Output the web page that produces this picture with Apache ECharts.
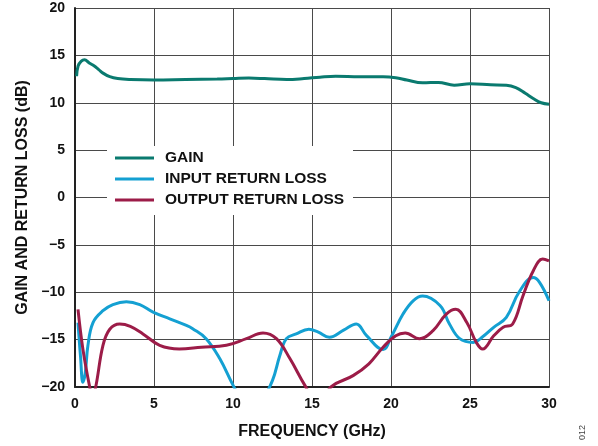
<!DOCTYPE html>
<html>
<head>
<meta charset="utf-8">
<script src="https://cdn.jsdelivr.net/npm/echarts@6/dist/echarts.min.js"></script>
<style>
  html, body { margin: 0; padding: 0; background: #fff; }
  #chart { width: 598px; height: 446px; }
</style>
</head>
<body>
<div id="chart"></div>
<script>
// 数据
var gainFreq = [0.1, 0.2, 0.4, 0.6, 0.9, 1.2, 1.5, 1.8, 2.2, 2.7, 3.5, 5, 7, 9, 10, 11, 12, 13.4, 14.5, 15.5, 16.5, 18, 19.5, 20.3, 21, 22, 23, 24, 25, 26.3, 27.3, 27.9, 28.5, 29, 29.5, 30];
var gainDb   = [12.8, 13.9, 14.4, 14.55, 14.2, 13.9, 13.5, 13.1, 12.75, 12.55, 12.45, 12.4, 12.45, 12.5, 12.55, 12.6, 12.55, 12.45, 12.55, 12.7, 12.8, 12.75, 12.75, 12.65, 12.4, 12.1, 12.15, 11.85, 12.0, 11.9, 11.85, 11.6, 11.0, 10.45, 10.0, 9.85];

var inFreq = [0.19, 0.35, 0.5, 0.65, 0.82, 1.14, 1.77, 2.4, 3.25, 4.1, 4.94, 6.0, 7.05, 7.45, 8.3, 9.16, 10.0, 10.6, 11.2, 11.8, 12.5, 12.96, 13.38, 14.0, 14.8, 15.4, 16.1, 17.0, 17.8, 18.44, 19.5, 20.0, 20.76, 21.4, 22.0, 23.1, 23.7, 24.35, 25.2, 25.8, 26.5, 27.3, 28.1, 28.99, 29.4, 30];
var inDb   = [-13.2, -16.8, -19.5, -18.5, -15.6, -13.2, -11.95, -11.3, -11.0, -11.3, -12.1, -12.8, -13.5, -13.85, -14.9, -17.0, -19.8, -21.5, -22.3, -21.5, -19.3, -16.7, -14.9, -14.4, -13.9, -14.2, -14.75, -14.0, -13.35, -14.55, -16.05, -14.75, -12.3, -10.9, -10.4, -11.4, -13.35, -14.9, -15.3, -14.7, -13.7, -12.65, -10.0, -8.45, -8.95, -10.9];

var outFreq = [0.19, 0.5, 0.93, 1.1, 1.31, 1.77, 2.2, 2.83, 3.5, 4.3, 5.36, 6.6, 8.0, 9.58, 10.85, 11.9, 12.75, 13.6, 14.54, 15.4, 16.2, 17.6, 18.6, 19.5, 20.3, 20.9, 21.8, 22.66, 23.5, 24.1, 24.8, 25.4, 25.8, 26.5, 27.1, 27.7, 28.35, 29.0, 29.6, 30];
var outDb   = [-11.8, -16.0, -20.0, -21.0, -20.0, -15.6, -13.9, -13.35, -13.6, -14.4, -15.6, -15.98, -15.8, -15.6, -14.9, -14.3, -14.9, -17.0, -19.8, -22.0, -20.0, -18.8, -17.55, -15.8, -14.6, -14.3, -14.9, -14.05, -12.3, -11.8, -13.2, -15.3, -16.0, -14.6, -13.7, -13.35, -10.4, -7.75, -6.5, -6.7];

var yTicks = [-20, -15, -10, -5, 0, 5, 10, 15, 20];

function pairs(xs, ys) {
    return xs.map(function(x, i) { return [x, ys[i]]; });
}

var font = '"Liberation Sans", Arial, sans-serif';
var myChart = echarts.init(document.getElementById('chart'), null, {renderer: 'canvas'});

var option = {
    backgroundColor: '#fff',
    animation: false,
    grid: { left: 75, right: 49, top: 8, bottom: 59, containLabel: false },
    xAxis: {
        type: 'value',
        min: 0, max: 30, interval: 5,
        name: 'FREQUENCY (GHz)',
        nameLocation: 'middle',
        nameGap: 37,
        nameTextStyle: { fontFamily: font, fontWeight: 'bold', fontSize: 16, color: '#111' },
        axisLine: { show: true, onZero: false, lineStyle: { color: '#222', width: 2 } },
        axisTick: { show: false },
        axisLabel: { margin: 10, fontFamily: font, fontWeight: 'bold', fontSize: 14, color: '#111' },
        splitLine: { show: true, lineStyle: { color: '#4a4a4a', width: 1 } }
    },
    yAxis: {
        type: 'value',
        min: -20, max: 20, interval: 5,
        name: 'GAIN AND RETURN LOSS (dB)',
        nameLocation: 'middle',
        nameGap: 43,
        nameTextStyle: { fontFamily: font, fontWeight: 'bold', fontSize: 16, color: '#111' },
        axisLine: { show: true, onZero: false, lineStyle: { color: '#222', width: 2 } },
        axisTick: { show: false },
        axisLabel: {
            margin: 10, fontFamily: font, fontWeight: 'bold', fontSize: 14, color: '#111',
            formatter: function(v) { return yTicks.indexOf(v) > -1 && v < 0 ? '\u2212' + Math.abs(v) : String(v); }
        },
        splitLine: { show: true, lineStyle: { color: '#4a4a4a', width: 1 } }
    },
    legend: {
        orient: 'vertical',
        left: 110, top: 145,
        itemWidth: 39, itemHeight: 3,
        itemGap: 5,
        icon: 'rect',
        z: 10,
        textStyle: { fontFamily: font, fontWeight: 'bold', fontSize: 15.5, color: '#111', lineHeight: 16, padding: [0, 0, 0, 6] },
        data: ['GAIN', 'INPUT RETURN LOSS', 'OUTPUT RETURN LOSS']
    },
    graphic: [
        { type: 'rect', z: 5, shape: { x: 107, y: 146, width: 246, height: 69 }, style: { fill: '#fff' } },
        { type: 'text', z: 5, x: 578, y: 440, rotation: Math.PI / 2,
          style: { text: '012', fontFamily: font, fontSize: 9, fill: '#444' } }
    ],
    series: [
        { name: 'GAIN', type: 'line', smooth: 0.4, symbol: 'none', clip: true,
          lineStyle: { color: '#0a7a6f', width: 3 }, itemStyle: { color: '#0a7a6f' },
          data: pairs(gainFreq, gainDb) },
        { name: 'INPUT RETURN LOSS', type: 'line', smooth: 0.4, symbol: 'none', clip: true,
          lineStyle: { color: '#14a0d2', width: 3 }, itemStyle: { color: '#14a0d2' },
          data: pairs(inFreq, inDb) },
        { name: 'OUTPUT RETURN LOSS', type: 'line', smooth: 0.4, symbol: 'none', clip: true,
          lineStyle: { color: '#9c1c48', width: 3 }, itemStyle: { color: '#9c1c48' },
          data: pairs(outFreq, outDb) }
    ]
};

myChart.setOption(option);
</script>
</body>
</html>
